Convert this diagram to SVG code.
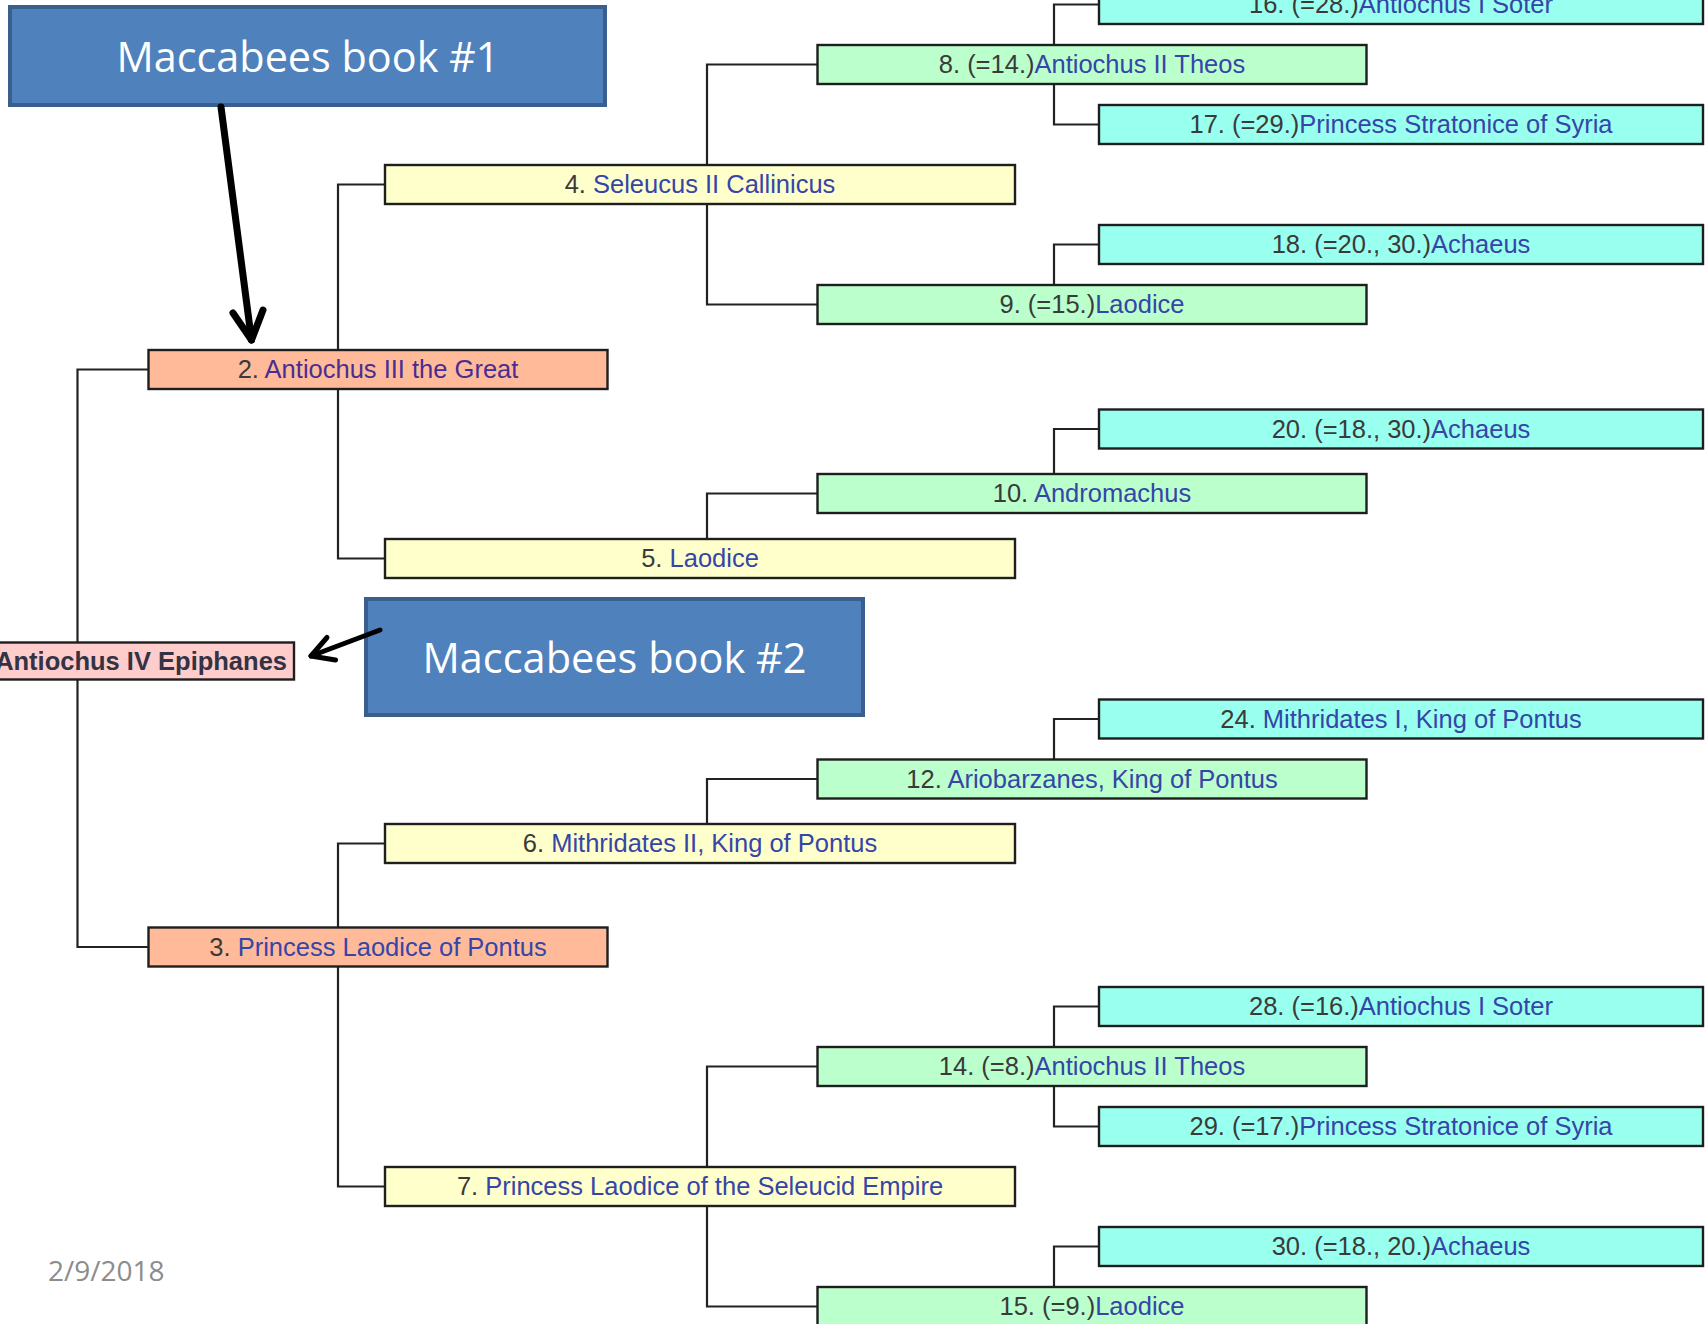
<svg xmlns="http://www.w3.org/2000/svg" width="1708" height="1324" viewBox="0 0 1708 1324">
<style>
.bg{fill:#ffffff}
.conn path{fill:none;stroke:#222222;stroke-width:2.2}
.box{stroke:#1e1e1e;stroke-width:2.4}
.l0{fill:#ffcccc}
.l1{fill:#ffbb99}
.l2{fill:#ffffcc}
.l3{fill:#bbffcc}
.l4{fill:#99ffee}
.t{font-family:"Liberation Sans",Arial,sans-serif;font-size:25.5px;text-anchor:middle;fill:#3a3a3a}
.nm{fill:#3545a8}
.nm2{fill:#4a2d92}
.t0{font-family:"Liberation Sans",Arial,sans-serif;font-size:25.5px;font-weight:bold;text-anchor:end;fill:#333344}
.call{fill:#4f81bd;stroke:#3a5f8e;stroke-width:4}
.ct{font-family:"Open Sans","Noto Sans",sans-serif;font-size:42px;fill:#ffffff;text-anchor:middle}
.arr{fill:none;stroke:#000000;stroke-linecap:round;stroke-linejoin:round}
.date{font-family:"Open Sans","Noto Sans",sans-serif;font-size:28px;fill:#8c8c8c}
</style>
<rect class="bg" x="0" y="0" width="1708" height="1324"/>

<g id="connectors" class="conn">
<path d="M149,369.5 H77.5 V947 H149"/>
<path d="M385,184.5 H338 V558.5 H385"/>
<path d="M385,843.5 H338 V1186.5 H385"/>
<path d="M817.5,64.5 H707 V304.5 H817.5"/>
<path d="M707,539 V493.5 H817.5"/>
<path d="M707,824 V779 H817.5"/>
<path d="M817.5,1066.5 H707 V1306.5 H817.5"/>
<path d="M1099,4.5 H1054 V124.5 H1099"/>
<path d="M1054,285 V244.5 H1099"/>
<path d="M1054,474 V429 H1099"/>
<path d="M1054,759.5 V719 H1099"/>
<path d="M1099,1006.5 H1054 V1126.5 H1099"/>
<path d="M1054,1287 V1246.5 H1099"/>
</g>

<g id="n1"><rect class="box l0" x="-20" y="642.5" width="314" height="37"/><text class="t0" x="287" y="670">Antiochus IV Epiphanes</text></g>

<g id="n2"><rect class="box l1" x="148.5" y="350" width="459" height="39"/><text class="t" x="378" y="378">2. <tspan class="nm2">Antiochus III the Great</tspan></text></g>
<g id="n3"><rect class="box l1" x="148.5" y="927.5" width="459" height="39"/><text class="t" x="378" y="955.5">3. <tspan class="nm">Princess Laodice of Pontus</tspan></text></g>

<g id="n4"><rect class="box l2" x="385" y="165" width="630" height="39"/><text class="t" x="700" y="193">4. <tspan class="nm">Seleucus II Callinicus</tspan></text></g>
<g id="n5"><rect class="box l2" x="385" y="539" width="630" height="39"/><text class="t" x="700" y="567">5. <tspan class="nm">Laodice</tspan></text></g>
<g id="n6"><rect class="box l2" x="385" y="824" width="630" height="39"/><text class="t" x="700" y="852">6. <tspan class="nm">Mithridates II, King of Pontus</tspan></text></g>
<g id="n7"><rect class="box l2" x="385" y="1167" width="630" height="39"/><text class="t" x="700" y="1195">7. <tspan class="nm">Princess Laodice of the Seleucid Empire</tspan></text></g>

<g id="n8"><rect class="box l3" x="817.5" y="45" width="549" height="39"/><text class="t" x="1092" y="73">8. (=14.)<tspan class="nm">Antiochus II Theos</tspan></text></g>
<g id="n9"><rect class="box l3" x="817.5" y="285" width="549" height="39"/><text class="t" x="1092" y="313">9. (=15.)<tspan class="nm">Laodice</tspan></text></g>
<g id="n10"><rect class="box l3" x="817.5" y="474" width="549" height="39"/><text class="t" x="1092" y="502">10. <tspan class="nm">Andromachus</tspan></text></g>
<g id="n12"><rect class="box l3" x="817.5" y="759.5" width="549" height="39"/><text class="t" x="1092" y="787.5">12. <tspan class="nm">Ariobarzanes, King of Pontus</tspan></text></g>
<g id="n14"><rect class="box l3" x="817.5" y="1047" width="549" height="39"/><text class="t" x="1092" y="1075">14. (=8.)<tspan class="nm">Antiochus II Theos</tspan></text></g>
<g id="n15"><rect class="box l3" x="817.5" y="1287" width="549" height="39"/><text class="t" x="1092" y="1315">15. (=9.)<tspan class="nm">Laodice</tspan></text></g>

<g id="n16"><rect class="box l4" x="1099" y="-15" width="604" height="39"/><text class="t" x="1401" y="13">16. (=28.)<tspan class="nm">Antiochus I Soter</tspan></text></g>
<g id="n17"><rect class="box l4" x="1099" y="105" width="604" height="39"/><text class="t" x="1401" y="133">17. (=29.)<tspan class="nm">Princess Stratonice of Syria</tspan></text></g>
<g id="n18"><rect class="box l4" x="1099" y="225" width="604" height="39"/><text class="t" x="1401" y="253">18. (=20., 30.)<tspan class="nm">Achaeus</tspan></text></g>
<g id="n20"><rect class="box l4" x="1099" y="409.5" width="604" height="39"/><text class="t" x="1401" y="437.5">20. (=18., 30.)<tspan class="nm">Achaeus</tspan></text></g>
<g id="n24"><rect class="box l4" x="1099" y="699.5" width="604" height="39"/><text class="t" x="1401" y="727.5">24. <tspan class="nm">Mithridates I, King of Pontus</tspan></text></g>
<g id="n28"><rect class="box l4" x="1099" y="987" width="604" height="39"/><text class="t" x="1401" y="1015">28. (=16.)<tspan class="nm">Antiochus I Soter</tspan></text></g>
<g id="n29"><rect class="box l4" x="1099" y="1107" width="604" height="39"/><text class="t" x="1401" y="1135">29. (=17.)<tspan class="nm">Princess Stratonice of Syria</tspan></text></g>
<g id="n30"><rect class="box l4" x="1099" y="1227" width="604" height="39"/><text class="t" x="1401" y="1255">30. (=18., 20.)<tspan class="nm">Achaeus</tspan></text></g>

<g id="callout1"><rect class="call" x="10" y="7" width="595" height="98"/><text class="ct" x="308" y="72" textLength="383" lengthAdjust="spacingAndGlyphs">Maccabees book #1</text></g>
<g id="callout2"><rect class="call" x="366" y="599" width="497" height="116"/><text class="ct" x="614.5" y="673" textLength="384" lengthAdjust="spacingAndGlyphs">Maccabees book #2</text></g>

<g id="arrows">
<path class="arr" stroke-width="7" d="M221,107 L251.5,340"/>
<path class="arr" stroke-width="7" d="M233,313 L251.5,340 L263,310"/>
<path class="arr" stroke-width="5" d="M380,630 L311,656"/>
<path class="arr" stroke-width="5" d="M327,637.5 L311,656 L335.5,660"/>
</g>

<text class="date" x="48" y="1281">2/9/2018</text>
</svg>
